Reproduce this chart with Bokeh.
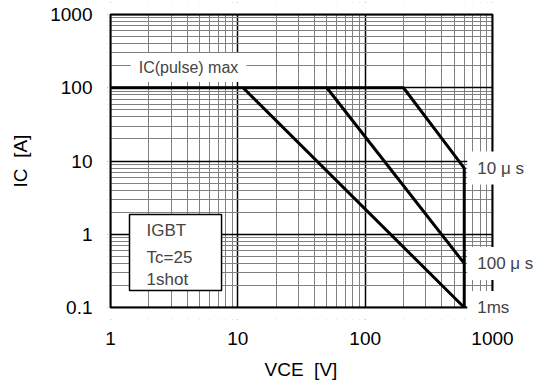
from bokeh.plotting import figure
from bokeh.models import (FixedTicker, CustomJSTickFormatter, Label,
                          BoxAnnotation, Range1d, Title)
from bokeh.embed import file_html
from bokeh.resources import INLINE

# ---- data ----
vce_10us = [1, 200, 600, 600]
ic_10us = [100, 100, 8, 0.1]
vce_100us = [50, 600]
ic_100us = [100, 0.4]
vce_1ms = [11, 600]
ic_1ms = [100, 0.1]

curve_labels = ["10 μ s", "100 μ s", "1ms"]
curve_label_x = [600, 600, 600]
curve_label_y = [8, 0.4, 0.1]

x_ticks = [1, 10, 100, 1000]
y_ticks = [0.1, 1, 10, 100, 1000]
x_minor = [m * d for d in [1, 10, 100] for m in range(2, 10)]
y_minor = [m * d for d in [0.1, 1, 10, 100] for m in range(2, 10)]

X_LO, X_HI = 1, 1000
Y_LO, Y_HI = 0.1, 1000

FONT = "Liberation Sans"

# layout (pixels): visible chart box is 110..492 x 14..307; the drawing
# frame is stretched a little so that the end labels are not clipped.
PX_DEC_X = 382 / 3.0
PX_DEC_Y = 293 / 4.0
EXT_L, EXT_R, EXT_T, EXT_B = 3, 52, 12, 12
x_start = X_LO * 10 ** (-EXT_L / PX_DEC_X)
x_end = X_HI * 10 ** (EXT_R / PX_DEC_X)
y_start = Y_LO * 10 ** (-EXT_B / PX_DEC_Y)
y_end = Y_HI * 10 ** (EXT_T / PX_DEC_Y)

p = figure(width=544, height=390, x_axis_type="log", y_axis_type="log",
           x_range=Range1d(x_start, x_end), y_range=Range1d(y_start, y_end),
           output_backend="svg", toolbar_location=None,
           min_border_left=110 - EXT_L, min_border_right=52 - EXT_R,
           min_border_top=14 - EXT_T, min_border_bottom=83 - EXT_B)
p.background_fill_color = "white"
p.border_fill_color = "white"
p.outline_line_color = None

xt = FixedTicker(ticks=x_ticks, minor_ticks=x_minor)
yt = FixedTicker(ticks=y_ticks, minor_ticks=y_minor)
p.xaxis.ticker = xt
p.yaxis.ticker = yt
p.xgrid.ticker = xt
p.ygrid.ticker = yt
fmt = CustomJSTickFormatter(code="return tick.toString();")
p.xaxis.formatter = fmt
p.yaxis.formatter = fmt

for g in (p.xgrid, p.ygrid):
    g.grid_line_color = "black"
    g.grid_line_width = 1.5
    g.minor_grid_line_color = "#808080"
    g.minor_grid_line_width = 1

for ax in (p.xaxis, p.yaxis):
    ax.axis_line_color = None
    ax.major_tick_line_color = None
    ax.minor_tick_line_color = None
    ax.major_tick_out = 0
    ax.major_tick_in = 0
    ax.minor_tick_out = 0
    ax.minor_tick_in = 0
    ax.major_label_text_font = FONT
    ax.major_label_text_font_size = "19px"
    ax.major_label_text_color = "black"
    ax.axis_label_text_font = FONT
    ax.axis_label_text_font_size = "19px"
    ax.axis_label_text_font_style = "normal"
    ax.axis_label_text_color = "black"

p.yaxis.axis_label = "IC\u00a0 [A]"
p.xaxis.major_label_standoff = 24 - EXT_B
p.yaxis.major_label_standoff = 18 - EXT_L
p.yaxis.axis_label_standoff = 16

# x axis title, aligned on the visible chart box (not the stretched frame)
p.add_layout(Title(text="VCE\u00a0 [V]", align="left", offset=157,
                   text_font=FONT, text_font_size="19px",
                   text_font_style="normal", text_color="black",
                   standoff=19), "below")

for xs, ys in ((vce_10us, ic_10us), (vce_100us, ic_100us), (vce_1ms, ic_1ms)):
    p.line(xs, ys, line_color="black", line_width=3)

# white masks outside the chart box, then the chart box border
for kw in (dict(left=X_HI), dict(right=X_LO), dict(top=Y_LO), dict(bottom=Y_HI)):
    p.add_layout(BoxAnnotation(fill_color="white", fill_alpha=1,
                               line_color=None, **kw))
p.add_layout(BoxAnnotation(left=X_LO, right=X_HI, bottom=Y_LO, top=Y_HI,
                           fill_alpha=0, line_color="black", line_width=2,
                           line_alpha=1))

p.add_layout(Label(x=4.1, y=189, text="IC(pulse) max", text_font=FONT,
                   text_font_size="16px", text_align="center",
                   text_baseline="middle", background_fill_color="white",
                   padding=dict(left=8, right=8, top=6, bottom=6)))

for t, xv, yv in zip(curve_labels, curve_label_x, curve_label_y):
    p.add_layout(Label(x=xv, y=yv, text=t, x_offset=3, text_font=FONT,
                       text_font_size="17px", text_align="left",
                       text_baseline="middle", background_fill_color="white",
                       padding=dict(left=10, right=8, top=7, bottom=7)))

p.add_layout(BoxAnnotation(left=1.41, right=7.45, bottom=0.17, top=1.86,
                           fill_color="white", fill_alpha=1,
                           line_color="black", line_width=1.5, line_alpha=1))
for t, yv in zip(["IGBT", "Tc=25", "1shot"], [1.12, 0.48, 0.24]):
    p.add_layout(Label(x=1.92, y=yv, text=t, text_font=FONT,
                       text_font_size="17px", text_align="left",
                       text_baseline="middle"))

open("out.html", "w").write(file_html(p, INLINE))
